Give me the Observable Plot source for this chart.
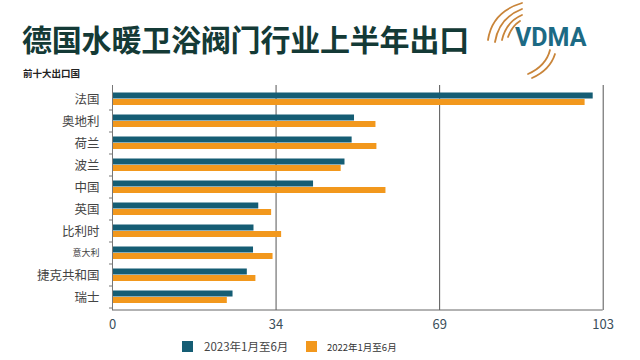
<!DOCTYPE html>
<html><head><meta charset="utf-8">
<script src="https://cdn.jsdelivr.net/npm/d3@7"></script>
<script src="https://cdn.jsdelivr.net/npm/@observablehq/plot@0.6"></script>
<style>
body{margin:0;background:#fff;width:640px;height:360px;overflow:hidden;font-family:"Noto Sans CJK SC","Noto Sans",sans-serif;position:relative}
#title{position:absolute;left:22px;top:18px;font-size:30px;font-weight:bold;color:#143a36;letter-spacing:-0.2px;white-space:nowrap;line-height:40px}
#sub{position:absolute;left:23px;top:66px;font-size:9.5px;font-weight:bold;color:#222;line-height:14px}
#logo{position:absolute;left:470px;top:0px}
#chart{position:absolute;left:0;top:80px}
#legend{position:absolute;top:339px;left:0;width:640px;height:16px;font-size:11.5px;color:#444}
.sw{position:absolute;width:11px;height:11px;top:2px}
.lt{position:absolute;top:-1px;line-height:16px;white-space:nowrap}
</style></head><body>
<div id="title">德国水暖卫浴阀门行业上半年出口</div>
<svg id="logo" width="170" height="80" viewBox="0 0 170 80">
  <g fill="none" stroke="#c9853a" stroke-width="1.8" stroke-linecap="round">
    <path d="M18 40 Q22 12 52 3"/>
    <path d="M25 42 Q29 18 52 9"/>
    <path d="M32 40 Q36 22 52 15"/>
    <path d="M38 37 Q42 26 50 21"/>
    <path d="M58 74 Q76 66 80 50"/>
    <path d="M62 78 Q80 70 85 54"/>
  </g>
  <text x="45" y="46" font-family="Roboto, 'Liberation Sans', sans-serif" font-weight="bold" font-size="25" fill="#1d6a84">VDMA</text>
</svg>
<div id="sub">前十大出口国</div>
<div id="chart"></div>
<div id="legend">
  <div class="sw" style="left:182px;background:#155d74"></div>
  <div class="lt" style="left:204px;font-size:11.5px">2023年1月至6月</div>
  <div class="sw" style="left:306px;background:#f2981d"></div>
  <div class="lt" style="left:327px;font-size:9.5px;color:#333;top:0px">2022年1月至6月</div>
</div>
<script>
const countries = ["法国","奥地利","荷兰","波兰","中国","英国","比利时","意大利","捷克共和国","瑞士"];
const values2023 = [100.9, 50.8, 50.3, 48.8, 42.2, 30.7, 29.7, 29.6, 28.3, 25.3];
const values2022 = [99.2, 55.3, 55.5, 48.0, 57.4, 33.4, 35.5, 33.7, 30.1, 24.1];
const xTicks = [0, 103/3, 206/3, 103];
const xTickLabels = ["0","34","69","103"];
const smallLabel = "意大利";

const d23 = countries.map((c,i)=>({country:c, value:values2023[i]}));
const d22 = countries.map((c,i)=>({country:c, value:values2022[i]}));

const chart = Plot.plot({
  width: 640, height: 255,
  marginLeft: 112, marginRight: 37.3, marginTop: 5, marginBottom: 25,
  style: {fontFamily: "'Noto Sans CJK SC','Noto Sans',sans-serif", background: "transparent"},
  x: {domain: [0, 103], axis: null},
  y: {domain: countries, axis: null, padding: 0},
  marks: [
    Plot.ruleX(xTicks.slice(1), {stroke: "#555", strokeWidth: 1}),
    Plot.barX(d23, {x: "value", y: "country", fill: "#155d74", insetTop: 4.5, insetBottom: 11.5}),
    Plot.barX(d22, {x: "value", y: "country", fill: "#f2981d", insetTop: 11, insetBottom: 5}),
    Plot.ruleX([0], {stroke: "#777", strokeWidth: 1}),
    Plot.text(countries, {x: 0, y: d => d, text: d => d, dx: -13, textAnchor: "end", fill: "#444",
      fontSize: d => d === smallLabel ? 9 : 12.5}),
    Plot.axisX({ticks: xTicks, tickFormat: (d, i) => xTickLabels[i], tickSize: 0, tickPadding: 9,
      fontSize: 13, color: "#3b4f5b", label: null})
  ]
});
document.getElementById("chart").appendChild(chart);

// bottom axis line and small category ticks
const svg = d3.select(chart);
const xs = chart.scale("x"), ys = chart.scale("y");
const x0 = xs.apply(0), x1 = xs.apply(103);
const yb = 255 - 25;
svg.append("line").attr("x1", x0).attr("x2", x1).attr("y1", yb).attr("y2", yb)
  .attr("stroke", "#666").attr("stroke-width", 1);
countries.forEach(c => {
  const y = ys.apply(c) + ys.bandwidth;
  svg.append("line").attr("x1", x0 - 3).attr("x2", x0).attr("y1", y).attr("y2", y)
    .attr("stroke", "#777").attr("stroke-width", 1);
});
</script>
</body></html>
